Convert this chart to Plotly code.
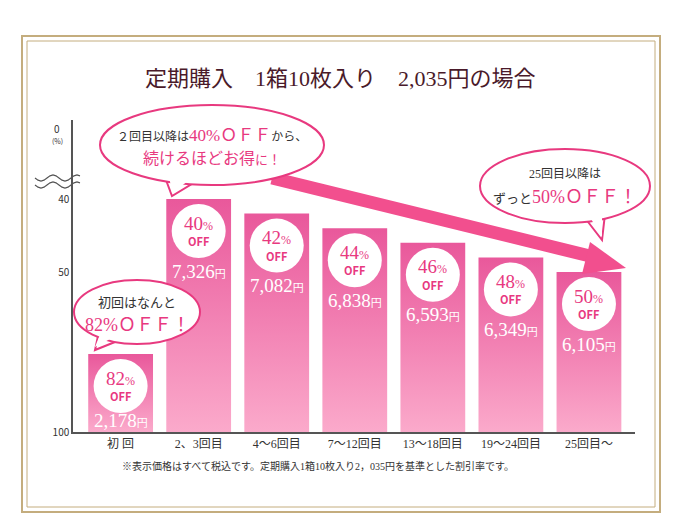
import numpy as np
import plotly.graph_objects as go

categories = ["初 回", "2、3回目", "4～6回目", "7～12回目", "13～18回目", "19～24回目", "25回目～"]
discounts = [82, 40, 42, 44, 46, 48, 50]
prices = ["2,178", "7,326", "7,082", "6,838", "6,593", "6,349", "6,105"]
tick_vals = [40, 50, 100]

# broken-axis scale: discount % -> drawn height
scale_in = [0, 40, 50, 82, 100]
scale_out = [303, 233, 160, 78, 0]
def sc(v):
    return float(np.interp(v, scale_in, scale_out))

W, H = 680, 532
OFF = 8  # page margin of the browser
L, R, T, B = 73, 635, 120, 432
def px(x): return (x - L) / (R - L)
def py(y): return (B - y) / (B - T)

x = list(range(len(categories)))
h = [sc(d) for d in discounts]
FONT = "Noto Sans CJK JP"
SERIF = "Liberation Serif, Noto Sans CJK JP"
PINK = "#e8397f"
BW = 0.83

fig = go.Figure()
for i in x:
    fig.add_trace(go.Scatter(
        x=[i - BW / 2, i + BW / 2, i + BW / 2, i - BW / 2, i - BW / 2],
        y=[0, 0, h[i], h[i], 0], mode="none", fill="toself",
        fillgradient=dict(type="vertical", colorscale=[[0, "#fbaacb"], [1, "#e9589b"]]),
        hoverinfo="skip"))
circle_y = [v - 32 for v in h]
fig.add_trace(go.Scatter(x=x, y=circle_y, mode="markers",
                         marker=dict(size=54, color="white"), hoverinfo="skip"))

ann = []
for i, d in enumerate(discounts):
    ann.append(dict(x=i, y=circle_y[i], yshift=8, text=f"{d}<span style='font-size:12px'>%</span>",
                    showarrow=False, font=dict(family=SERIF, size=19, color=PINK)))
    ann.append(dict(x=i, y=circle_y[i], yshift=-10, text="<b>OFF</b>", showarrow=False,
                    font=dict(family=FONT, size=11, color=PINK)))
    ann.append(dict(x=i, y=circle_y[i] - (34 if i == 0 else 40),
                    text=f"{prices[i]}<span style='font-size:11px'>円</span>",
                    showarrow=False, font=dict(family=SERIF, size=19, color="white")))

def pa(xp_, yp_, text, size, color, fam=SERIF):
    ann.append(dict(x=px(xp_), y=py(yp_), xref="paper", yref="paper", text=text, showarrow=False,
                    xanchor="center", yanchor="middle", font=dict(family=fam, size=size, color=color)))

pa(340, 78, "定期購入　1箱10枚入り　2,035円の場合", 22, "#4a1a2a")
pa(57, 128, "0", 10, "#333", FONT)
pa(57, 141, "(%)", 7, "#333", FONT)
pa(318, 466, "※表示価格はすべて税込です。定期購入1箱10枚入り2，035円を基準とした割引率です。", 10, "#333")

shapes = []
def pshape(**kw):
    kw.setdefault("xref", "paper"); kw.setdefault("yref", "paper")
    shapes.append(kw)

# frame
for m, wdt in [(0, 2), (5, 1)]:
    pshape(type="rect", x0=px(22 + m), x1=px(660 - m), y0=py(36 + m), y1=py(512 - m),
           line=dict(color="#c4ad7e", width=wdt), layer="below")

# arrow
pshape(type="line", x0=px(272), y0=py(178), x1=px(598), y1=py(258),
       line=dict(color="#f24f8e", width=13))
pshape(type="path", path=f"M {px(590)} {py(242)} L {px(626)} {py(268)} L {px(582)} {py(274)} Z",
       fillcolor="#f24f8e", line=dict(width=0))

def bubble(cx, cy, rx, ry, tail):
    pshape(type="path", path=f"M {px(tail[0][0])} {py(tail[0][1])} L {px(tail[1][0])} {py(tail[1][1])} L {px(tail[2][0])} {py(tail[2][1])} Z",
           fillcolor="white", line=dict(color=PINK, width=2))
    pshape(type="circle", x0=px(cx - rx), x1=px(cx + rx), y0=py(cy - ry), y1=py(cy + ry),
           fillcolor="white", line=dict(color=PINK, width=2))
    pshape(type="path", path=f"M {px(tail[0][0]+3)} {py(tail[0][1]-4)} L {px(tail[1][0])} {py(tail[1][1]-3)} L {px(tail[2][0]-3)} {py(tail[2][1]-4)} Z",
           fillcolor="white", line=dict(width=0))

bubble(212, 145, 112, 40, [(166, 180), (172, 196), (195, 182)])
bubble(565, 186, 85, 37, [(585, 218), (602, 240), (605, 214)])
bubble(137, 312, 63, 32, [(98, 336), (95, 350), (115, 342)])

pa(212, 135, "２回目以降は<span style='color:#e8397f;font-size:17px'>40%ＯＦＦ</span>から、", 12, "#333")
pa(212, 158, "続けるほどお得<span style='font-size:13px'>に！</span>", 16, PINK)
pa(565, 174, "25回目以降は", 12, "#333")
pa(565, 197, "ずっと<span style='color:#e8397f;font-size:18px'>50%ＯＦＦ！</span>", 13, "#333")
pa(137, 302, "初回はなんと", 13, "#333")
pa(137, 325, "82%ＯＦＦ！", 18, PINK)

# axis break squiggle
for dy in (0, 7):
    yy = 178 + dy
    pts = " ".join(f"L {px(35 + k*3)} {py(yy + 3*np.sin(k*np.pi/4))}" for k in range(1, 16))
    pshape(type="path", path=f"M {px(35)} {py(yy)} " + pts, line=dict(color="#555", width=1.2))

fig.update_layout(
    width=W, height=H, margin=dict(l=L - OFF, r=W - R + OFF, t=T - OFF, b=H - B + OFF),
    paper_bgcolor="white", plot_bgcolor="white", showlegend=False,
    annotations=ann, shapes=shapes,
    xaxis=dict(range=[-0.61, 6.59], tickvals=x, ticktext=categories, showgrid=False,
               showline=True, linecolor="#555", linewidth=1.5, ticks="",
               tickfont=dict(family=SERIF, size=12, color="#333"), zeroline=False),
    yaxis=dict(range=[0, 312], tickvals=[sc(v) for v in tick_vals],
               ticktext=[str(v) for v in tick_vals], showgrid=False, showline=True,
               linecolor="#555", linewidth=1.5, ticks="", zeroline=False,
               tickfont=dict(family=FONT, size=10, color="#333")),
)
fig.write_html("out.html")
